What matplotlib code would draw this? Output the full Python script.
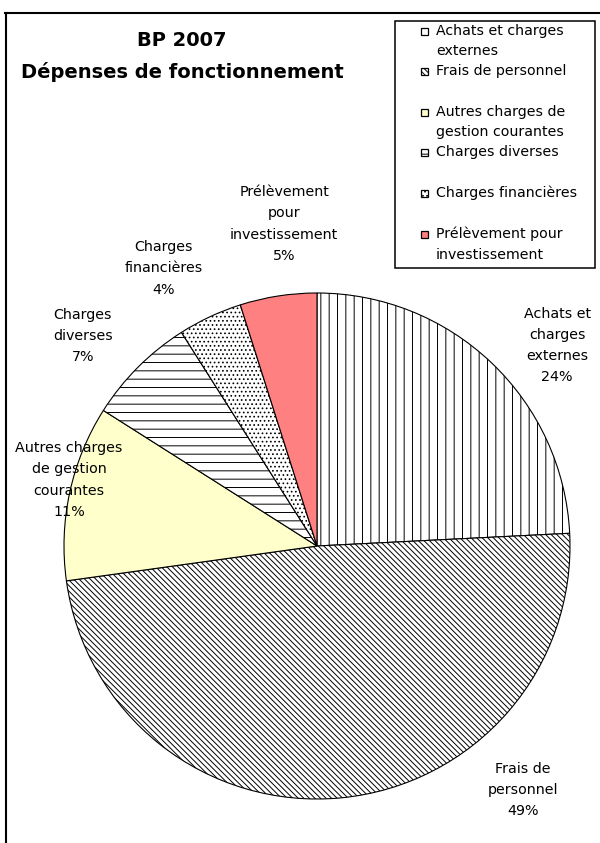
import matplotlib
matplotlib.use("Agg")
import matplotlib.pyplot as plt
from matplotlib.patches import Rectangle
from matplotlib.lines import Line2D

# BP 2007 - operating expenses, shares in percent
categories = ["Achats et charges externes", "Frais de personnel",
              "Autres charges de gestion courantes", "Charges diverses",
              "Charges financières", "Prélèvement pour investissement"]
values = [24.2, 48.6, 11.2, 7.0, 4.1, 4.9]
pie_names = ["Achats et\ncharges\nexternes", "Frais de\npersonnel",
             "Autres charges\nde gestion\ncourantes", "Charges\ndiverses",
             "Charges\nfinancières", "Prélèvement\npour\ninvestissement"]
legend_names = ["Achats et charges\nexternes", "Frais de personnel",
                "Autres charges de\ngestion courantes", "Charges diverses",
                "Charges financières", "Prélèvement pour\ninvestissement"]

colors = ["white", "white", "#FFFFCC", "white", "white", "#FF8080"]
hatches = ["||", "\\" * 6, "", "--", "....", ""]

W, H = 600, 843
CX, CY, R = 317, 546, 253  # pie centre and radius in pixels

plt.rcParams['font.family'] = ['DejaVu Sans']
plt.rcParams['hatch.linewidth'] = 0.7

fig = plt.figure(figsize=(W / 100, H / 100), dpi=100)
fig.patch.set_facecolor("white")
ax = fig.add_axes([0, 0, 1, 1])

def fx(px):
    return px / W

def fy(py):
    return 1 - py / H

wedges, _ = ax.pie(values, startangle=90, counterclock=False,
                   colors=colors, hatch=hatches,
                   wedgeprops=dict(edgecolor="black", linewidth=0.8))
ax.set_xlim(-CX / R, (W - CX) / R)
ax.set_ylim((CY - H) / R, CY / R)
ax.axis("off")

# label positions, in pie radius units
label_pos = [(0.949, 0.792), (0.814, -0.964), (-0.980, 0.261),
             (-0.925, 0.830), (-0.605, 1.097), (-0.130, 1.273)]
for name, v, (lx, ly) in zip(pie_names, values, label_pos):
    ax.text(lx, ly, f"{name}\n{round(v)}%", ha="center", va="center",
            fontsize=10.3, linespacing=1.65)

# title
fig.text(fx(182), fy(40), "BP 2007", ha="center", va="center",
         fontsize=14, fontweight="bold")
fig.text(fx(182), fy(72), "Dépenses de fonctionnement", ha="center",
         va="center", fontsize=14, fontweight="bold")

# outer frame (only left and top edges are visible)
fig.add_artist(Line2D([fx(5.5), fx(5.5)], [fy(13), 0], color="black",
                      linewidth=1.5, transform=fig.transFigure))
fig.add_artist(Line2D([fx(5), 1], [fy(13), fy(13)], color="black",
                      linewidth=1.5, transform=fig.transFigure))

# legend box drawn by hand to keep the even spacing of the original
fig.add_artist(Rectangle((fx(395), fy(268)), fx(595) - fx(395),
                         fy(21) - fy(268), facecolor="white",
                         edgecolor="black", linewidth=1.1,
                         transform=fig.transFigure))
for i, (name, w) in enumerate(zip(legend_names, wedges)):
    ty = 31 + i * 40.6
    fig.add_artist(Rectangle((fx(421), fy(ty + 3.5)), fx(7), fy(0) - fy(7),
                             facecolor=w.get_facecolor(),
                             hatch=w.get_hatch(), edgecolor="black",
                             linewidth=0.9, transform=fig.transFigure))
    fig.text(fx(436), fy(ty - 7.5), name, ha="left", va="top", fontsize=10.2,
             linespacing=1.6, transform=fig.transFigure)

fig.savefig("out.png", dpi=100)
